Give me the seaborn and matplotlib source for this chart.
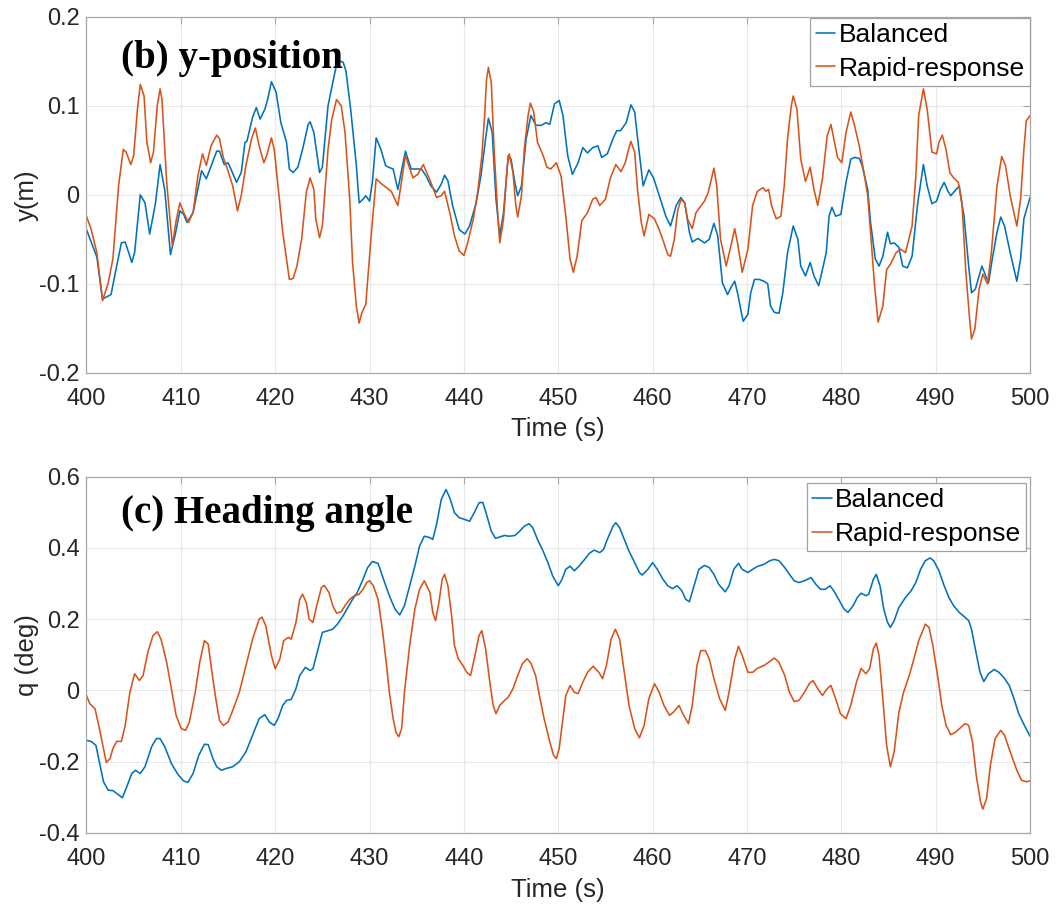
import numpy as np
import pandas as pd
import matplotlib
matplotlib.use("Agg")
import matplotlib.pyplot as plt
from matplotlib.ticker import FuncFormatter
import seaborn as sns

# ---------------- (b) lateral position y (m) ----------------
ypos_bal_t = [400.0, 401.1, 401.7, 402.6, 403.2, 403.7, 404.1, 404.6, 404.8, 405.1, 405.7, 406.2, 406.7, 407.3,
              407.8, 408.3, 408.9, 409.4, 409.9, 410.3, 410.65, 411.3, 412.2, 412.7, 413.3, 413.8, 414.1, 414.6,
              415.0, 415.3, 415.9, 416.4, 416.8, 417.0, 417.6, 418.0, 418.4, 418.9, 419.2, 419.6, 420.1, 420.6,
              421.2, 421.5, 421.9, 422.4, 422.9, 423.5, 423.7, 424.1, 424.7, 425.0, 425.6, 426.1, 426.6, 427.2,
              427.5, 428.0, 428.6, 428.9, 429.3, 429.6, 430.0, 430.3, 430.7, 431.2, 431.7, 432.0, 432.5, 433.0,
              433.8, 434.4, 434.95, 435.5, 436.0, 436.5, 437.1, 437.6, 437.95, 438.3, 438.8, 439.5, 440.1, 440.6,
              441.3, 441.8, 442.3, 442.6, 443.0, 443.4, 443.8, 444.2, 444.7, 445.0, 445.4, 445.7, 446.1, 446.6,
              447.1, 447.65, 448.2, 448.7, 449.1, 449.6, 450.1, 450.5, 451.0, 451.5, 452.1, 452.6, 453.1, 453.65,
              454.2, 454.6, 455.2, 455.8, 456.2, 456.6, 457.2, 457.7, 458.1, 458.5, 459.0, 459.6, 460.1, 460.7,
              461.4, 461.9, 462.5, 463.0, 463.4, 463.9, 464.2, 464.8, 465.5, 466.0, 466.5, 466.9, 467.4, 467.95,
              468.3, 468.7, 469.0, 469.4, 469.6, 470.1, 470.4, 470.8, 471.3, 471.8, 472.2, 472.5, 472.9, 473.4,
              473.8, 474.3, 474.9, 475.4, 475.7, 476.2, 476.7, 477.1, 477.6, 478.0, 478.4, 478.7, 479.0, 479.4,
              479.95, 480.5, 481.0, 481.4, 481.9, 482.2, 482.8, 483.1, 483.6, 484.0, 484.4, 484.9, 485.2, 485.6,
              486.1, 486.5, 487.0, 487.5, 488.1, 488.7, 489.1, 489.6, 490.1, 490.5, 490.9, 491.3, 491.6, 492.0,
              492.5, 493.0, 493.5, 493.8, 494.2, 494.6, 494.9, 495.3, 495.6, 496.0, 496.5, 496.9, 497.3, 497.9,
              498.6, 499.0, 499.35, 500.0]
ypos_bal_v = [-0.039, -0.070, -0.117, -0.112, -0.080, -0.054, -0.053, -0.069, -0.076, -0.065, 0.000, -0.009, -0.044, -0.010,
              0.034, 0.005, -0.067, -0.045, -0.018, -0.022, -0.031, -0.020, 0.027, 0.018, 0.035, 0.049, 0.049, 0.034,
              0.036, 0.029, 0.014, 0.025, 0.059, 0.060, 0.087, 0.098, 0.085, 0.096, 0.107, 0.127, 0.115, 0.081,
              0.059, 0.029, 0.025, 0.031, 0.051, 0.079, 0.082, 0.070, 0.025, 0.031, 0.100, 0.126, 0.151, 0.149,
              0.139, 0.096, 0.033, -0.009, -0.005, -0.001, -0.007, 0.014, 0.064, 0.051, 0.033, 0.031, 0.029, 0.006,
              0.049, 0.029, 0.029, 0.029, 0.021, 0.010, 0.003, 0.012, 0.022, 0.016, -0.012, -0.039, -0.044, -0.035,
              -0.009, 0.021, 0.063, 0.086, 0.070, -0.005, -0.046, -0.020, 0.044, 0.040, 0.014, -0.001, 0.010, 0.063,
              0.089, 0.078, 0.078, 0.081, 0.079, 0.102, 0.106, 0.089, 0.044, 0.023, 0.036, 0.053, 0.047, 0.053,
              0.055, 0.042, 0.046, 0.063, 0.072, 0.072, 0.081, 0.101, 0.093, 0.055, 0.010, 0.028, 0.019, -0.001,
              -0.024, -0.035, -0.012, -0.003, -0.009, -0.042, -0.053, -0.049, -0.054, -0.050, -0.032, -0.046, -0.099, -0.112,
              -0.104, -0.097, -0.110, -0.132, -0.142, -0.134, -0.110, -0.095, -0.095, -0.097, -0.100, -0.125, -0.132, -0.133,
              -0.110, -0.065, -0.035, -0.050, -0.080, -0.091, -0.076, -0.091, -0.102, -0.084, -0.065, -0.024, -0.014, -0.024,
              -0.022, 0.014, 0.040, 0.042, 0.041, 0.033, 0.006, -0.031, -0.072, -0.080, -0.069, -0.042, -0.055, -0.054,
              -0.059, -0.080, -0.082, -0.069, -0.009, 0.034, 0.010, -0.010, -0.007, 0.006, 0.014, 0.004, -0.001, 0.004,
              0.010, -0.024, -0.080, -0.110, -0.106, -0.091, -0.080, -0.091, -0.099, -0.072, -0.042, -0.025, -0.035, -0.065,
              -0.097, -0.072, -0.027, -0.003]

ypos_rap_t = [400.0, 400.5, 401.1, 401.7, 402.3, 402.8, 403.4, 403.9, 404.2, 404.7, 405.0, 405.4, 405.7, 406.1,
              406.4, 406.8, 407.1, 407.5, 407.8, 408.0, 408.5, 409.1, 409.5, 409.9, 410.3, 410.8, 411.3, 411.8,
              412.3, 412.7, 413.2, 413.8, 414.1, 414.5, 415.0, 415.5, 416.0, 416.4, 416.9, 417.5, 417.9, 418.3,
              418.8, 419.1, 419.6, 419.9, 420.3, 420.8, 421.5, 421.9, 422.3, 422.8, 423.3, 423.7, 424.1, 424.3,
              424.7, 425.0, 425.6, 426.0, 426.5, 427.0, 427.4, 427.9, 428.2, 428.6, 428.9, 429.2, 429.6, 430.2,
              430.7, 431.3, 431.8, 432.3, 433.0, 433.8, 434.6, 435.1, 435.7, 436.5, 437.1, 437.6, 437.95, 438.5,
              439.0, 439.5, 440.0, 440.4, 441.0, 441.5, 441.9, 442.2, 442.4, 442.6, 442.9, 443.2, 443.6, 443.8,
              444.2, 444.6, 444.8, 445.2, 445.5, 445.7, 446.1, 446.4, 446.8, 447.05, 447.4, 447.8, 448.4, 448.8,
              449.2, 449.8, 450.3, 450.8, 451.25, 451.6, 452.0, 452.5, 453.1, 453.65, 454.0, 454.4, 455.0, 455.5,
              456.1, 456.65, 457.1, 457.45, 457.7, 458.1, 458.4, 458.8, 459.1, 459.6, 460.2, 460.7, 461.2, 461.6,
              461.9, 462.3, 462.65, 463.0, 463.4, 463.7, 464.2, 464.6, 465.15, 465.5, 465.9, 466.5, 466.8, 467.2,
              467.8, 468.3, 468.7, 469.0, 469.5, 470.1, 470.6, 471.1, 471.7, 472.0, 472.3, 472.6, 473.1, 473.6,
              473.95, 474.3, 474.7, 474.9, 475.3, 475.7, 476.2, 476.7, 477.1, 477.5, 478.0, 478.5, 478.9, 479.2,
              479.6, 480.05, 480.5, 481.0, 481.4, 481.9, 482.4, 482.8, 483.1, 483.5, 483.9, 484.4, 484.8, 485.2,
              485.8, 486.3, 486.8, 487.5, 487.9, 488.2, 488.7, 489.1, 489.6, 490.1, 490.35, 490.7, 491.1, 491.5,
              491.9, 492.4, 492.8, 493.2, 493.6, 493.8, 494.15, 494.6, 495.0, 495.5, 495.9, 496.5, 497.0, 497.4,
              497.9, 498.6, 499.0, 499.35, 499.6, 500.0]
ypos_rap_v = [-0.024, -0.039, -0.065, -0.119, -0.099, -0.072, 0.010, 0.051, 0.048, 0.034, 0.044, 0.096, 0.124, 0.111,
              0.059, 0.036, 0.048, 0.100, 0.119, 0.107, 0.014, -0.057, -0.029, -0.009, -0.020, -0.031, -0.020, 0.021,
              0.046, 0.033, 0.055, 0.067, 0.063, 0.042, 0.027, 0.010, -0.018, -0.001, 0.033, 0.063, 0.075, 0.055,
              0.036, 0.044, 0.064, 0.051, 0.010, -0.042, -0.095, -0.094, -0.080, -0.050, 0.003, 0.019, 0.006, -0.027,
              -0.048, -0.035, 0.051, 0.085, 0.107, 0.100, 0.070, -0.005, -0.076, -0.125, -0.144, -0.132, -0.123, -0.042,
              0.018, 0.012, 0.008, 0.004, -0.012, 0.044, 0.019, 0.023, 0.034, 0.014, -0.003, -0.001, 0.004, -0.020,
              -0.046, -0.063, -0.068, -0.054, -0.027, 0.006, 0.044, 0.089, 0.130, 0.143, 0.126, 0.051, -0.024, -0.054,
              -0.027, 0.033, 0.046, 0.025, -0.012, -0.025, -0.001, 0.051, 0.089, 0.103, 0.093, 0.059, 0.044, 0.031,
              0.029, 0.036, 0.021, -0.024, -0.072, -0.087, -0.069, -0.029, -0.020, -0.005, -0.003, -0.012, -0.005, 0.018,
              0.034, 0.026, 0.036, 0.051, 0.060, 0.048, 0.006, -0.031, -0.046, -0.022, -0.027, -0.039, -0.054, -0.067,
              -0.069, -0.050, -0.018, -0.005, -0.009, -0.027, -0.038, -0.020, -0.012, -0.007, 0.003, 0.030, 0.010, -0.050,
              -0.080, -0.057, -0.038, -0.054, -0.087, -0.061, -0.012, 0.004, 0.008, 0.004, 0.006, -0.012, -0.027, -0.024,
              0.010, 0.063, 0.100, 0.111, 0.096, 0.040, 0.015, 0.031, 0.006, -0.012, 0.018, 0.066, 0.079, 0.063,
              0.042, 0.036, 0.070, 0.093, 0.078, 0.055, 0.025, -0.001, -0.042, -0.099, -0.143, -0.125, -0.084, -0.078,
              -0.065, -0.061, -0.065, -0.035, 0.021, 0.089, 0.119, 0.096, 0.048, 0.046, 0.059, 0.067, 0.051, 0.025,
              0.019, 0.014, -0.012, -0.087, -0.140, -0.162, -0.151, -0.106, -0.089, -0.100, -0.065, 0.010, 0.043, 0.033,
              -0.001, -0.035, -0.005, 0.051, 0.083, 0.089]

# ---------------- (c) heading angle (deg) ----------------
head_bal_t = [400.0, 400.5, 401.0, 401.4, 401.8, 402.3, 402.8, 403.2, 403.8, 404.2, 404.8, 405.2, 405.7, 406.2,
              406.9, 407.4, 407.8, 408.3, 409.0, 409.7, 410.3, 410.75, 411.3, 411.9, 412.5, 412.9, 413.4, 413.8,
              414.3, 414.8, 415.5, 416.2, 416.9, 417.6, 418.3, 418.9, 419.4, 419.9, 420.3, 420.8, 421.2, 421.7,
              422.2, 422.6, 423.2, 423.7, 424.0, 424.5, 425.0, 425.6, 426.1, 426.6, 427.2, 427.7, 428.2, 428.7,
              429.3, 429.8, 430.3, 430.9, 431.6, 432.1, 432.7, 433.2, 433.7, 434.25, 434.8, 435.3, 435.8, 436.4,
              436.7, 437.1, 437.6, 438.1, 438.5, 439.0, 439.5, 440.1, 440.6, 441.1, 441.6, 442.0, 442.4, 442.9,
              443.35, 443.8, 444.3, 444.8, 445.4, 445.9, 446.4, 446.9, 447.3, 447.8, 448.4, 448.9, 449.4, 450.0,
              450.4, 450.8, 451.25, 451.7, 452.2, 452.8, 453.3, 453.8, 454.4, 454.8, 455.2, 455.8, 456.1, 456.5,
              457.0, 457.5, 458.1, 458.6, 458.9, 459.5, 460.0, 460.5, 461.1, 461.6, 462.1, 462.6, 463.1, 463.5,
              463.9, 464.4, 464.9, 465.5, 466.0, 466.5, 467.0, 467.7, 468.1, 468.6, 469.1, 469.5, 470.1, 470.6,
              471.1, 471.8, 472.4, 472.9, 473.4, 474.0, 474.5, 475.0, 475.5, 476.1, 476.8, 477.3, 477.8, 478.3,
              478.8, 479.2, 479.8, 480.3, 480.7, 481.25, 481.7, 482.1, 482.6, 482.9, 483.4, 483.7, 484.1, 484.5,
              484.9, 485.2, 485.6, 486.1, 486.8, 487.4, 487.9, 488.4, 488.9, 489.4, 489.8, 490.35, 490.9, 491.4,
              491.9, 492.5, 493.0, 493.5, 493.8, 494.2, 494.7, 495.1, 495.6, 496.2, 496.7, 497.2, 497.8, 498.3,
              498.8, 499.4, 500.0]
head_bal_v = [-0.140, -0.143, -0.154, -0.205, -0.256, -0.280, -0.281, -0.289, -0.301, -0.275, -0.233, -0.224, -0.233, -0.214,
              -0.158, -0.135, -0.135, -0.158, -0.205, -0.236, -0.254, -0.258, -0.233, -0.182, -0.151, -0.152, -0.191, -0.214,
              -0.224, -0.219, -0.214, -0.200, -0.172, -0.126, -0.079, -0.068, -0.089, -0.098, -0.079, -0.042, -0.028, -0.025,
              0.005, 0.042, 0.065, 0.056, 0.061, 0.112, 0.163, 0.168, 0.172, 0.186, 0.210, 0.233, 0.256, 0.275,
              0.312, 0.345, 0.362, 0.357, 0.303, 0.266, 0.228, 0.212, 0.238, 0.294, 0.349, 0.405, 0.433, 0.429,
              0.424, 0.466, 0.536, 0.564, 0.541, 0.499, 0.485, 0.480, 0.475, 0.499, 0.527, 0.528, 0.494, 0.447,
              0.427, 0.431, 0.435, 0.433, 0.435, 0.447, 0.461, 0.468, 0.457, 0.424, 0.391, 0.359, 0.322, 0.294,
              0.312, 0.340, 0.349, 0.336, 0.349, 0.368, 0.385, 0.394, 0.387, 0.396, 0.424, 0.461, 0.471, 0.457,
              0.424, 0.391, 0.359, 0.331, 0.324, 0.340, 0.359, 0.340, 0.312, 0.294, 0.286, 0.294, 0.280, 0.256,
              0.249, 0.294, 0.340, 0.351, 0.345, 0.326, 0.298, 0.277, 0.294, 0.340, 0.357, 0.340, 0.331, 0.340,
              0.348, 0.354, 0.364, 0.368, 0.364, 0.345, 0.326, 0.308, 0.303, 0.308, 0.317, 0.298, 0.284, 0.284,
              0.294, 0.280, 0.252, 0.228, 0.219, 0.238, 0.261, 0.273, 0.266, 0.270, 0.312, 0.326, 0.294, 0.228,
              0.191, 0.177, 0.196, 0.233, 0.261, 0.280, 0.303, 0.340, 0.364, 0.372, 0.364, 0.336, 0.294, 0.261,
              0.238, 0.219, 0.208, 0.196, 0.172, 0.117, 0.051, 0.025, 0.047, 0.059, 0.051, 0.037, 0.014, -0.023,
              -0.065, -0.098, -0.128]

head_rap_t = [400.0, 400.35, 400.9, 401.3, 401.8, 402.1, 402.5, 402.8, 403.2, 403.7, 404.1, 404.6, 405.1, 405.6,
              406.0, 406.5, 407.05, 407.5, 407.9, 408.5, 409.0, 409.5, 410.05, 410.5, 410.9, 411.5, 412.0, 412.5,
              412.9, 413.2, 413.7, 414.1, 414.5, 415.0, 415.5, 416.2, 416.9, 417.6, 418.3, 418.6, 419.0, 419.6,
              420.0, 420.5, 420.9, 421.4, 421.7, 422.2, 422.6, 422.9, 423.3, 423.6, 424.0, 424.4, 424.9, 425.2,
              425.7, 426.1, 426.5, 427.0, 427.4, 427.9, 428.4, 428.9, 429.3, 429.7, 430.0, 430.4, 430.9, 431.4,
              431.8, 432.1, 432.5, 432.8, 433.1, 433.4, 433.7, 434.25, 434.8, 435.3, 435.8, 436.4, 436.7, 437.0,
              437.35, 437.7, 437.95, 438.3, 438.7, 439.0, 439.4, 439.9, 440.3, 440.7, 441.1, 441.6, 441.9, 442.3,
              442.7, 443.1, 443.4, 443.8, 444.3, 444.7, 445.2, 445.7, 446.2, 446.7, 447.1, 447.6, 448.0, 448.5,
              449.1, 449.5, 449.8, 450.1, 450.5, 450.8, 451.25, 451.7, 452.1, 452.6, 453.1, 453.7, 454.3, 454.7,
              455.1, 455.6, 456.05, 456.5, 457.0, 457.5, 458.1, 458.6, 459.1, 459.6, 460.2, 460.7, 461.2, 461.8,
              462.2, 462.8, 463.2, 463.8, 464.2, 464.7, 465.1, 465.6, 466.0, 466.5, 467.1, 467.7, 468.1, 468.7,
              469.1, 469.5, 470.1, 470.6, 471.1, 471.8, 472.4, 472.9, 473.4, 474.0, 474.5, 475.0, 475.5, 476.1,
              476.6, 477.0, 477.5, 478.0, 478.5, 478.9, 479.4, 479.9, 480.5, 481.0, 481.6, 482.1, 482.6, 483.0,
              483.4, 483.7, 484.0, 484.4, 484.8, 485.2, 485.6, 486.1, 486.6, 487.2, 487.7, 488.2, 488.7, 488.9,
              489.3, 489.7, 490.2, 490.65, 491.1, 491.6, 492.1, 492.7, 493.1, 493.5, 493.9, 494.3, 494.75, 495.0,
              495.4, 495.8, 496.3, 496.9, 497.3, 497.9, 498.6, 499.1, 499.6, 500.0]
head_rap_v = [-0.014, -0.037, -0.051, -0.098, -0.163, -0.202, -0.191, -0.163, -0.143, -0.143, -0.098, -0.005, 0.047, 0.028,
              0.042, 0.107, 0.154, 0.165, 0.144, 0.079, 0.005, -0.070, -0.107, -0.112, -0.089, -0.009, 0.079, 0.140,
              0.130, 0.070, -0.023, -0.084, -0.098, -0.089, -0.056, -0.005, 0.070, 0.144, 0.200, 0.206, 0.182, 0.098,
              0.061, 0.089, 0.140, 0.149, 0.144, 0.191, 0.256, 0.270, 0.247, 0.200, 0.191, 0.238, 0.289, 0.295,
              0.275, 0.238, 0.217, 0.221, 0.238, 0.256, 0.266, 0.270, 0.284, 0.303, 0.308, 0.294, 0.256, 0.163,
              0.070, -0.005, -0.079, -0.117, -0.130, -0.107, -0.005, 0.126, 0.228, 0.284, 0.308, 0.275, 0.219, 0.196,
              0.247, 0.312, 0.326, 0.294, 0.210, 0.126, 0.089, 0.070, 0.051, 0.042, 0.089, 0.154, 0.168, 0.117,
              0.033, -0.042, -0.065, -0.042, -0.028, -0.019, 0.005, 0.042, 0.075, 0.089, 0.077, 0.042, -0.014, -0.079,
              -0.144, -0.182, -0.191, -0.163, -0.079, -0.014, 0.014, -0.005, -0.009, 0.023, 0.051, 0.068, 0.051, 0.033,
              0.070, 0.144, 0.172, 0.144, 0.051, -0.042, -0.107, -0.133, -0.098, -0.023, 0.019, -0.005, -0.042, -0.070,
              -0.061, -0.042, -0.065, -0.093, -0.042, 0.070, 0.112, 0.112, 0.089, 0.033, -0.023, -0.056, -0.005, 0.089,
              0.124, 0.098, 0.051, 0.051, 0.062, 0.070, 0.081, 0.091, 0.079, 0.042, -0.005, -0.031, -0.028, -0.005,
              0.019, 0.028, 0.005, -0.014, 0.005, 0.014, -0.023, -0.065, -0.079, -0.042, 0.023, 0.062, 0.047, 0.061,
              0.117, 0.133, 0.098, -0.023, -0.154, -0.214, -0.172, -0.061, -0.005, 0.042, 0.089, 0.140, 0.172, 0.186,
              0.177, 0.126, 0.042, -0.042, -0.098, -0.124, -0.117, -0.103, -0.093, -0.098, -0.144, -0.238, -0.312, -0.333,
              -0.303, -0.210, -0.135, -0.112, -0.126, -0.172, -0.224, -0.252, -0.256, -0.254]

series_names = ["Balanced", "Rapid-response"]
series_colors = ["#0072BD", "#D95319"]
panel_titles = ["(b) y-position", "(c) Heading angle"]
y_labels = ["y(m)", "q (deg)"]
x_label = "Time (s)"
x_ticks = [400, 410, 420, 430, 440, 450, 460, 470, 480, 490, 500]
y_ticks_pos = [-0.2, -0.1, 0.0, 0.1, 0.2]
y_ticks_head = [-0.4, -0.2, 0.0, 0.2, 0.4, 0.6]

sns.set_theme(style="white")
plt.rcParams["font.family"] = ["Liberation Sans", "DejaVu Sans"]
plt.rcParams["axes.unicode_minus"] = False

TEXT = "#262626"
SPINE = "#a8a8a8"


def long_frame(tb, vb, tr, vr):
    a = pd.DataFrame({"Time": tb, "value": vb, "Series": series_names[0]})
    b = pd.DataFrame({"Time": tr, "value": vr, "Series": series_names[1]})
    return pd.concat([a, b], ignore_index=True)


def tick_fmt(v, _):
    if abs(v) < 1e-9:
        return "0"
    return f"{v:g}"


def draw_panel(ax, df, yticks, ylabel, title, title_y, legend_anchor):
    sns.lineplot(data=df, x="Time", y="value", hue="Series",
                 hue_order=series_names,
                 palette=dict(zip(series_names, series_colors)),
                 estimator=None, linewidth=1.15, ax=ax)
    ax.set_xlim(x_ticks[0], x_ticks[-1])
    ax.set_ylim(yticks[0], yticks[-1])
    ax.set_xticks(x_ticks)
    ax.set_yticks(yticks)
    ax.yaxis.set_major_formatter(FuncFormatter(tick_fmt))
    ax.grid(True, color="#e8e8e8", linewidth=0.8)
    ax.set_axisbelow(True)
    for s in ax.spines.values():
        s.set_color(SPINE)
        s.set_linewidth(0.9)
    ax.tick_params(direction="in", top=True, right=True, length=5, width=0.8,
                   color=SPINE, labelsize=17, labelcolor=TEXT)
    ax.tick_params(axis="y", pad=5)
    ax.tick_params(axis="x", pad=11)
    ax.set_xlabel(x_label, fontsize=18.5, color=TEXT)
    ax.set_ylabel(ylabel, fontsize=18.5, color=TEXT)
    ax.xaxis.set_label_coords(0.5, -0.125)
    ax.yaxis.set_label_coords(-0.05, 0.5)
    ax.text(0.037, title_y, title, transform=ax.transAxes,
            family=["Liberation Serif", "DejaVu Serif"], fontweight="bold",
            fontsize=28, color="black", ha="left", va="baseline")
    handles, labels = ax.get_legend_handles_labels()
    leg = ax.legend(handles, labels, loc="upper right", bbox_to_anchor=legend_anchor,
                    fontsize=19, frameon=True, fancybox=False, framealpha=1,
                    edgecolor="#a0a0a0", handlelength=0.75, handletextpad=0.12,
                    borderpad=0.2, labelspacing=0.36, borderaxespad=0.0)
    leg.get_frame().set_linewidth(0.9)
    for t in leg.get_texts():
        t.set_color("black")


fig = plt.figure(figsize=(10.56, 9.07), dpi=100)
ax_top = fig.add_axes([0.0819, 0.5888, 0.8935, 0.3928])
ax_bot = fig.add_axes([0.0819, 0.0816, 0.8935, 0.3928])

draw_panel(ax_top, long_frame(ypos_bal_t, ypos_bal_v, ypos_rap_t, ypos_rap_v),
           y_ticks_pos, y_labels[0], panel_titles[0], 0.856, (1.0, 0.997))
draw_panel(ax_bot, long_frame(head_bal_t, head_bal_v, head_rap_t, head_rap_v),
           y_ticks_head, y_labels[1], panel_titles[1], 0.87, (0.996, 0.982))

fig.savefig("out.png", dpi=100)
